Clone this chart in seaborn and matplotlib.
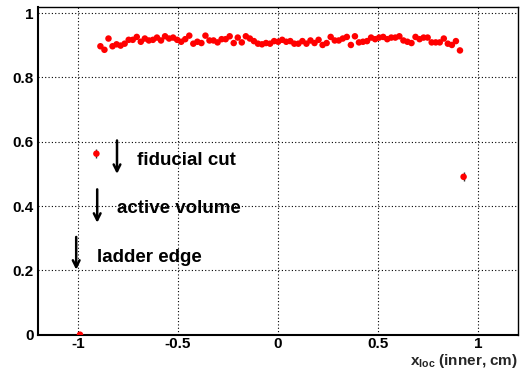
import numpy as np
import pandas as pd
import matplotlib
matplotlib.use("Agg")
import matplotlib.pyplot as plt
import seaborn as sns
from matplotlib.ticker import MultipleLocator

# ---- data ----
x_first = -0.888
x_step = 0.0202
eff_main = [
    0.897, 0.886, 0.921, 0.897, 0.903, 0.899, 0.905, 0.917, 0.917, 0.926, 0.911, 0.921,
    0.915, 0.917, 0.924, 0.915, 0.928, 0.921, 0.924, 0.917, 0.911, 0.919, 0.930,
    0.905, 0.911, 0.907, 0.930, 0.915, 0.915, 0.909, 0.919, 0.919, 0.928, 0.907, 0.924,
    0.909, 0.928, 0.921, 0.913, 0.905, 0.903, 0.907, 0.905, 0.913, 0.911,
    0.917, 0.911, 0.913, 0.905, 0.905, 0.913, 0.905, 0.915, 0.907, 0.917, 0.901, 0.907,
    0.926, 0.915, 0.915, 0.921, 0.926, 0.901, 0.928, 0.909, 0.911, 0.913,
    0.924, 0.919, 0.924, 0.926, 0.919, 0.924, 0.924, 0.928, 0.915, 0.911, 0.907, 0.926,
    0.919, 0.924, 0.924, 0.909, 0.909, 0.909, 0.921, 0.905, 0.901, 0.913, 0.884,
]
err_main = 0.005
x_extra = [-0.99, -0.908, 0.928]
eff_extra = [0.0, 0.563, 0.491]
err_extra = [0.005, 0.014, 0.014]

x_ticks = [-1, -0.5, 0, 0.5, 1]
x_ticklabels = ["-1", "-0.5", "0", "0.5", "1"]
y_ticks = [0, 0.2, 0.4, 0.6, 0.8, 1.0]
y_ticklabels = ["0", "0.2", "0.4", "0.6", "0.8", "1"]

annotations = [
    ("fiducial cut", -0.805, 0.604, 0.500, -0.705, 0.543),
    ("active volume", -0.904, 0.452, 0.348, -0.805, 0.392),
    ("ladder edge", -1.009, 0.304, 0.202, -0.904, 0.241),
]
xlabel_main = "x"
xlabel_sub = "loc"
xlabel_rest = " (inner, cm)"

# ---- build frame ----
x_main = [x_first + x_step * i for i in range(len(eff_main))]
df = pd.DataFrame({
    "x": x_main + x_extra,
    "eff": eff_main + eff_extra,
    "err": [err_main] * len(eff_main) + err_extra,
})

sns.set_style("white")
plt.rcParams["font.family"] = ["Liberation Sans", "DejaVu Sans"]
plt.rcParams["font.weight"] = "bold"
plt.rcParams["mathtext.fontset"] = "custom"
plt.rcParams["mathtext.rm"] = "Liberation Sans:bold"
plt.rcParams["mathtext.bf"] = "Liberation Sans:bold"
plt.rcParams["mathtext.it"] = "Liberation Sans:bold"

fig = plt.figure(figsize=(5.26, 3.73), dpi=100)
ax = fig.add_axes([38 / 526, (373 - 334.7) / 373, (518 - 38) / 526, (334.7 - 6.7) / 373])

ax.set_xlim(-1.2, 1.2)
ax.set_ylim(0, 1.02)

# grid
for xv in x_ticks:
    ax.axvline(xv, color="black", lw=0.8, ls=(0, (1, 2)), zorder=0)
for yv in y_ticks[1:]:
    ax.axhline(yv, color="black", lw=0.8, ls=(0, (1, 2)), zorder=0)

ax.errorbar(df["x"], df["eff"], yerr=df["err"], fmt="none", ecolor="#333333",
            elinewidth=1.0, zorder=2)
sns.scatterplot(data=df, x="x", y="eff", ax=ax, color="red", s=22,
                edgecolor="none", zorder=3, legend=False)

for text, ax_x, y0, y1, tx, ty in annotations:
    ax.annotate("", xy=(ax_x, y1), xytext=(ax_x, y0),
                arrowprops=dict(arrowstyle="->", lw=1.8, color="black",
                                mutation_scale=12, shrinkA=0, shrinkB=0))
    ax.text(tx, ty, text, fontsize=13.5, fontweight="bold", ha="left",
            va="center", color="black")

ax.set_xticks(x_ticks)
ax.set_xticklabels(x_ticklabels)
ax.set_yticks(y_ticks)
ax.set_yticklabels(y_ticklabels)
ax.xaxis.set_minor_locator(MultipleLocator(0.1))
ax.yaxis.set_minor_locator(MultipleLocator(0.05))
ax.tick_params(axis="both", which="major", direction="in", length=7.5, width=1.0,
               labelsize=11, colors="black")
ax.tick_params(axis="both", which="minor", direction="in", length=3.8, width=1.0)
ax.tick_params(axis="x", which="major", pad=2)
ax.tick_params(axis="y", which="major", pad=3)
ax.tick_params(top=False, right=False, which="both")
for lab in ax.get_xticklabels() + ax.get_yticklabels():
    lab.set_fontweight("bold")

for side in ["left", "bottom", "top", "right"]:
    ax.spines[side].set_visible(True)
    ax.spines[side].set_color("black")
ax.spines["left"].set_linewidth(1.5)
ax.spines["bottom"].set_linewidth(1.5)
ax.spines["top"].set_linewidth(1.0)
ax.spines["right"].set_linewidth(1.0)

ax.set_xlabel("")
ax.set_ylabel("")
fig.text(518 / 526, 3 / 373,
         r"$\mathbf{" + xlabel_main + r"}_{\mathbf{" + xlabel_sub + r"}}$" + xlabel_rest,
         ha="right", va="bottom", fontsize=11, fontweight="bold")

fig.savefig("out.png", dpi=100)
